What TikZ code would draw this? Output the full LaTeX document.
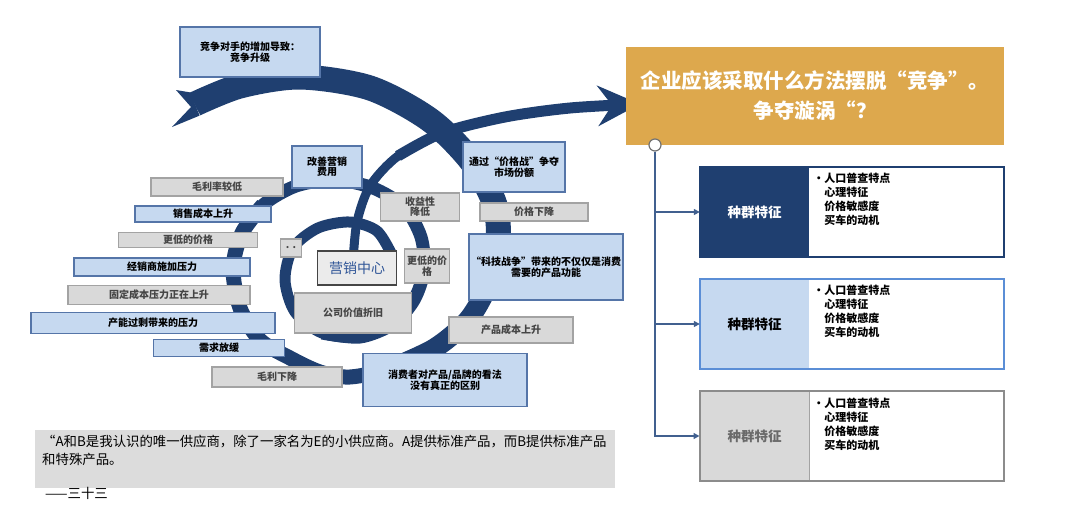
\documentclass[tikz,border=0pt]{standalone}
\usepackage{fontspec}
\setmainfont{Noto Sans CJK SC}
\usepackage{xcolor}
\usetikzlibrary{arrows.meta}
\usetikzlibrary{positioning}

\definecolor{swirl}{HTML}{1F3F70}
\definecolor{paleblue}{HTML}{C6D9F0}
\definecolor{bluerim}{HTML}{5575A8}
\definecolor{palegray}{HTML}{D9D9D9}
\definecolor{grayrim}{HTML}{A3A3A3}
\definecolor{graytext}{HTML}{454545}
\definecolor{gold}{HTML}{DDA84D}
\definecolor{linkblue}{HTML}{41608F}
\definecolor{brightrim}{HTML}{5B8ED6}
\definecolor{quotegray}{HTML}{DCDCDC}
\definecolor{centreblue}{HTML}{2F5597}

\begin{document}
\begin{tikzpicture}[x=1pt, y=-1pt,
    band/.style={swirl, line cap=butt, line join=round},
    wh/.style 2 args={minimum width=#1pt, minimum height=#2pt},
    bluebox/.style={draw=bluerim, fill=paleblue, line width=1.2pt, inner sep=0pt,
      align=center, font=\fontsize{10}{11}\selectfont\bfseries},
    graybox/.style={draw=grayrim, fill=palegray, text=graytext, line width=1.2pt,
      inner sep=0pt, align=center, font=\fontsize{10}{11}\selectfont\bfseries},
    tab/.style={inner sep=0pt, wh={109}{90}, font=\fontsize{13.5}{15}\selectfont\bfseries},
    frame/.style={inner sep=0pt, wh={304}{90}, line width=1.6pt},
    items/.style={anchor=north west, inner sep=0pt, align=left,
      font=\fontsize{11}{14}\selectfont\bfseries},
    link/.style={linkblue, line width=1.4pt, -{Triangle[length=6pt,width=6pt]}}]
  \useasboundingbox (0,0) rectangle (1080,509);

  % Spiral centre line, outside in
  \foreach \n/\x/\y in {1/195/104, 2/240/86, 3/300/77, 4/370/88, 5/430/120, 6/472/162,
      7/495/205, 8/498/245, 9/488/285, 10/468/320, 11/435/348, 12/392/368, 13/350/377,
      14/320/372, 15/290/358, 16/260/340, 17/240/308, 18/233/268, 19/242/233, 20/263/205,
      21/296/186, 22/335/180, 23/373/188, 24/404/207, 25/421/237, 26/424/270, 27/414/300,
      28/393/324, 29/360/337, 30/322/333, 31/295/312, 32/285/280, 33/293/248, 34/318/228,
      35/350/222, 36/377/231, 37/392/255}
    \coordinate (s\n) at (\x,\y);
  \draw[band, line width=11pt] plot[smooth] coordinates {(s1) (s2) (s3) (s4) (s5) (s6)
    (s7) (s8) (s9) (s10) (s11) (s12) (s13) (s14) (s15) (s16) (s17) (s18) (s19) (s20)
    (s21) (s22) (s23) (s24) (s25) (s26) (s27) (s28) (s29) (s30) (s31) (s32) (s33) (s34)
    (s35) (s36) (s37)};
  \draw[band, line width=13pt] plot[smooth] coordinates {(s1) (s2) (s3) (s4) (s5) (s6)
    (s7) (s8) (s9) (s10) (s11) (s12) (s13) (s14) (s15) (s16) (s17) (s18) (s19) (s20)
    (s21) (s22) (s23) (s24) (s25) (s26) (s27) (s28) (s29) (s30)};
  \draw[band, line width=15pt] plot[smooth] coordinates {(s1) (s2) (s3) (s4) (s5) (s6)
    (s7) (s8) (s9) (s10) (s11) (s12) (s13) (s14) (s15) (s16) (s17) (s18) (s19) (s20)};
  \draw[band, line width=20pt] plot[smooth] coordinates {(s1) (s2) (s3) (s4) (s5) (s6)
    (s7) (s8) (s9) (s10) (s11) (s12)};
  \draw[band, line width=25pt] plot[smooth] coordinates {(s1) (s2) (s3) (s4) (s5) (s6)
    (s7) (s8) (s9)};
  % swallow tail
  \fill[swirl] (190.4,92.4) -- (176,90) -- (191,107) -- (172,127) -- (199.6,115.6) -- cycle;

  % Arrow out of the centre
  \foreach \n/\x/\y in {1/353/262, 2/357/222, 3/370/186, 4/398/156, 5/442/133, 6/505/117,
      7/570/108, 8/640/104}
    \coordinate (a\n) at (\x,\y);
  \draw[swirl, line width=9pt] plot[smooth] coordinates {(a1) (a2) (a3) (a4) (a5)};
  \draw[swirl, line width=11pt, -{Stealth[length=42pt, width=40pt, inset=14pt]}]
    plot[smooth] coordinates {(a4) (a5) (a6) (a7) (a8)};

  % Blue labels
  \node[bluebox, wh={140}{50}] (compete) at (250,52) {竞争对手的增加导致：\\竞争升级};
  \node[bluebox, wh={70}{42}, font=\fontsize{10}{10}\selectfont\bfseries] (improve) at (327,167) {改善营销\\费用};
  \node[bluebox, wh={102}{50}] (pricewar) at (514,167) {通过“价格战”争夺\\市场份额};
  \node[bluebox, wh={136}{16}] (salescost) at (203,214) {销售成本上升};
  \node[bluebox, wh={176}{18}] (dealer) at (162,267) {经销商施加压力};
  \node[bluebox, wh={244}{21}] (overcap) at (153,323) {产能过剩带来的压力};
  \node[bluebox, wh={131}{17}] (demand) at (219,348) {需求放缓};
  \node[bluebox, wh={154}{66}] (tech) at (546,267) {“科技战争”带来的不仅仅是消费\\需要的产品功能};
  \node[bluebox, wh={164}{53}] (consumer) at (445,380) {消费者对产品/品牌的看法\\没有真正的区别};

  % Gray labels
  \node[graybox, wh={132}{18}] (lowmargin) at (217,187) {毛利率较低};
  \node[graybox, wh={139}{15}] (lowprice) at (188,240) {更低的价格};
  \node[graybox, wh={182}{19}] (fixedcost) at (159,295) {固定成本压力正在上升};
  \node[graybox, wh={130}{20}] (margindown) at (277,377) {毛利下降};
  \node[graybox, wh={79}{28}, font=\fontsize{10}{10}\selectfont\bfseries] (profit) at (420,207) {收益性\\降低};
  \node[graybox, wh={108}{18}] (pricedown) at (534,212) {价格下降};
  \node[graybox, wh={45}{34}] (lowprice2) at (427,266) {更低的价\\格};
  \node[graybox, wh={117}{40}] (depreciation) at (353,313) {公司价值折旧};
  \node[graybox, wh={124}{26}] (prodcost) at (511,330) {产品成本上升};
  \node[graybox, wh={21}{18}] (dots) at (291,248) {. .};
  \node[draw=graytext, fill=black!8, line width=1.2pt, inner sep=0pt, wh={79}{34},
    text=centreblue, font=\fontsize{14}{15}\selectfont] (mkt) at (357,268) {营销中心};

  % Quote
  \node[fill=quotegray, inner sep=0pt, wh={580}{58}] (quote) at (325,459) {};
  \node[anchor=north west, align=left, inner sep=0pt, font=\fontsize{13.4}{18}\selectfont]
    (quotetext) at (42,435) {“A和B是我认识的唯一供应商，除了一家名为E的小供应商。A提供标准产品，而B提供标准产品\\和特殊产品。};
  \node[anchor=west, inner sep=0pt, font=\fontsize{13.4}{15}\selectfont] (signoff) at (45,493) {——三十三};

  % Question and the three panels
  \node[fill=gold, text=white, inner sep=0pt, wh={378}{98}, align=center,
    font=\fontsize{20.5}{30}\selectfont\bfseries] (question) at (815,96)
    {企业应该采取什么方法摆脱“竞争”。\\争夺漩涡“？};
  \node[fill=swirl, text=white, tab] (pop1) at (754.5,212) {种群特征};
  \node[draw=swirl, frame] (frame1) at (852,212) {};
  \node[fill=paleblue, tab] (pop2) at (754.5,324) {种群特征};
  \node[draw=brightrim, frame] (frame2) at (852,324) {};
  \node[fill=palegray, draw=grayrim, line width=1pt, text=graytext!80, tab] (pop3) at (754.5,436) {种群特征};
  \node[draw=black!45, frame] (frame3) at (852,436) {};
  \node[items, below right=7pt and 114pt of frame1.north west] (list1)
    {·人口普查特点\\\phantom{·}心理特征\\\phantom{·}价格敏感度\\\phantom{·}买车的动机};
  \node[items, below right=7pt and 114pt of frame2.north west] (list2)
    {·人口普查特点\\\phantom{·}心理特征\\\phantom{·}价格敏感度\\\phantom{·}买车的动机};
  \node[items, below right=8pt and 114pt of frame3.north west] (list3)
    {·人口普查特点\\\phantom{·}心理特征\\\phantom{·}价格敏感度\\\phantom{·}买车的动机};

  % Connectors
  \node[circle, draw=black!55, fill=white, line width=1.2pt, minimum size=12pt, inner sep=0pt] (hub) at (655,145) {};
  \draw[link] (hub.south) |- (pop1.west);
  \draw[link] (hub.south) |- (pop2.west);
  \draw[link] (hub.south) |- (pop3.west);
\end{tikzpicture}
\end{document}
